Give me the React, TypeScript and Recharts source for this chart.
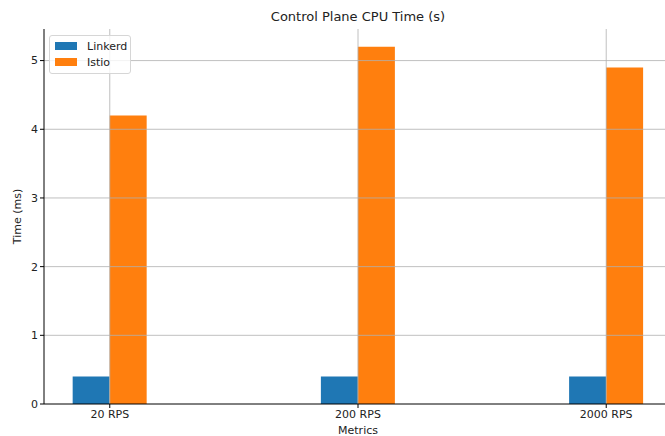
import { Bar, BarChart, ReferenceLine, XAxis, YAxis } from "recharts";

const categories = ["20 RPS", "200 RPS", "2000 RPS"];
const linkerdValues = [0.4, 0.4, 0.4];
const istioValues = [4.2, 5.2, 4.9];
const yTicks = [0, 1, 2, 3, 4, 5];
const xTicks = [0, 1, 2];
const xDomain: [number, number] = [-0.265, 2.265];
const yDomain: [number, number] = [0, 5.46];

const series = [
  { key: "linkerd", name: "Linkerd", color: "#1f77b4" },
  { key: "istio", name: "Istio", color: "#ff7f0e" },
];

const data = categories.map((name, i) => ({
  pos: i,
  name,
  linkerd: linkerdValues[i],
  istio: istioValues[i],
}));

const FONT = "'DejaVu Sans', sans-serif";
const TEXT = "#222";
const GRID = "#b0b0b0";

function LegendBox() {
  return (
    <div
      style={{
        position: "absolute",
        left: 49,
        top: 35,
        width: 80,
        height: 35,
        border: "1px solid #d6d6d6",
        borderRadius: 3,
        background: "rgba(255,255,255,0.8)",
        fontFamily: FONT,
        fontSize: 11,
        color: TEXT,
        paddingTop: 2,
      }}
    >
      {series.map((s) => (
        <div key={s.key} style={{ display: "flex", alignItems: "center", height: 16 }}>
          <span
            style={{
              display: "inline-block",
              width: 22,
              height: 8,
              background: s.color,
              marginLeft: 5,
              marginRight: 10,
            }}
          />
          <span>{s.name}</span>
        </div>
      ))}
    </div>
  );
}

export default function App() {
  return (
    <div
      style={{
        position: "fixed",
        left: 0,
        top: 0,
        width: 665,
        height: 436,
        overflow: "hidden",
        background: "#fff",
      }}
    >
      <div
        style={{
          position: "absolute",
          left: 44,
          width: 628,
          top: 9,
          textAlign: "center",
          fontFamily: FONT,
          fontSize: 13,
          color: TEXT,
        }}
      >
        Control Plane CPU Time (s)
      </div>
      <BarChart
        width={680}
        height={436}
        data={data}
        margin={{ top: 29, right: 8, left: 0, bottom: 0 }}
        barGap={0}
        style={{ position: "absolute", left: 0, top: 0 }}
      >
        <XAxis
          dataKey="pos"
          type="number"
          domain={xDomain}
          allowDataOverflow
          ticks={xTicks}
          tickFormatter={(v: number) => categories[v] ?? ""}
          height={32}
          stroke="#000"
          tickSize={4}
          tickMargin={2}
          tick={{ fill: TEXT, fontSize: 11, fontFamily: FONT }}
          label={{
            content: ({ viewBox }: any) => (
              <text
                x={viewBox.x + viewBox.width / 2}
                y={viewBox.y + 30}
                textAnchor="middle"
                fontSize={11}
                fontFamily={FONT}
                fill={TEXT}
              >
                Metrics
              </text>
            ),
          }}
        />
        <XAxis
          xAxisId="top"
          dataKey="pos"
          type="number"
          orientation="top"
          domain={xDomain}
          allowDataOverflow
          height={0}
          tick={false}
          tickLine={false}
          stroke="#000"
        />
        <YAxis
          type="number"
          domain={yDomain}
          allowDataOverflow
          ticks={yTicks}
          width={44}
          stroke="#000"
          tickSize={4}
          tickMargin={2}
          tick={{ fill: TEXT, fontSize: 11, fontFamily: FONT }}
          label={{
            content: ({ viewBox }: any) => {
              const x = 21;
              const y = viewBox.y + viewBox.height / 2;
              return (
                <text
                  x={x}
                  y={y}
                  transform={`rotate(-90 ${x} ${y})`}
                  textAnchor="middle"
                  fontSize={11}
                  fontFamily={FONT}
                  fill={TEXT}
                >
                  Time (ms)
                </text>
              );
            },
          }}
        />
        {series.map((s) => (
          <Bar
            key={s.key}
            dataKey={s.key}
            name={s.name}
            fill={s.color}
            barSize={37}
            isAnimationActive={false}
          />
        ))}
        {yTicks
          .filter((v) => v > 0)
          .map((v) => (
            <ReferenceLine key={`y${v}`} y={v} stroke={GRID} strokeWidth={0.8} />
          ))}
        {xTicks.map((v) => (
          <ReferenceLine key={`x${v}`} x={v} stroke={GRID} strokeWidth={0.8} />
        ))}
      </BarChart>
      <LegendBox />
    </div>
  );
}
